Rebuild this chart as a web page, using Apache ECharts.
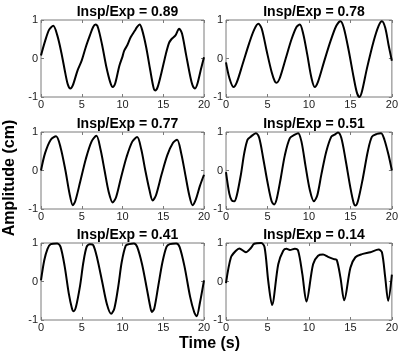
<!DOCTYPE html>
<html><head><meta charset="utf-8">
<script src="https://cdn.jsdelivr.net/npm/echarts@6/dist/echarts.min.js"></script>
<style>html,body{margin:0;padding:0;background:#fff}#c{width:401px;height:354px}</style>
</head><body><div id="c"></div>
<script>
const titles = ["Insp/Exp = 0.89","Insp/Exp = 0.78","Insp/Exp = 0.77","Insp/Exp = 0.51","Insp/Exp = 0.41","Insp/Exp = 0.14"];
const xTicks = [0,5,10,15,20];
const yTicks = [-1,0,1];
const xLabel = "Time (s)";
const yLabel = "Amplitude (cm)";

const t1 = [0,0.5,1.0,1.5,2.0,2.5,3.0,3.3,3.6,3.9,4.5,5.0,5.5,6.0,6.4,6.7,7.0,7.5,8.0,8.5,8.8,9.1,9.6,10.0,10.2,10.6,11.0,11.5,11.8,12.1,12.4,12.9,13.4,13.8,14.0,14.3,14.8,15.3,15.7,16.0,16.5,16.95,17.3,17.8,18.3,18.6,18.9,19.2,19.6,20];
const y1 = [0.08,0.45,0.75,0.85,0.6,0.15,-0.4,-0.68,-0.78,-0.7,-0.3,-0.05,0.3,0.6,0.82,0.88,0.8,0.35,-0.2,-0.62,-0.74,-0.65,-0.2,0.05,0.2,0.35,0.55,0.72,0.82,0.88,0.75,0.3,-0.3,-0.75,-0.83,-0.75,-0.35,0.1,0.4,0.5,0.6,0.77,0.65,0.1,-0.45,-0.7,-0.78,-0.65,-0.3,0.03];

const t2 = [0,0.4,0.9,1.3,2.0,2.8,3.4,3.9,4.3,4.9,5.5,5.9,6.1,6.5,7.2,7.9,8.5,8.9,9.3,9.8,10.3,10.7,11.1,11.8,12.6,13.3,13.8,14.2,14.8,15.4,15.8,16.1,16.4,17.0,17.8,18.4,18.8,19.2,19.6,20];
const y2 = [-0.1,-0.5,-0.74,-0.62,-0.15,0.4,0.75,0.9,0.78,0.2,-0.35,-0.6,-0.63,-0.5,0.0,0.5,0.82,0.88,0.65,0.1,-0.5,-0.74,-0.6,-0.1,0.45,0.85,0.97,0.8,0.2,-0.5,-0.9,-1.0,-0.85,-0.25,0.45,0.85,0.97,0.8,0.35,-0.06];

const t3 = [0,0.5,1.2,1.85,2.4,3.0,3.5,3.9,4.2,4.8,5.5,6.2,6.8,7.3,7.8,8.3,8.8,9.2,9.8,10.5,11.2,11.8,12.3,12.8,13.3,13.7,14.1,14.8,15.5,16.2,16.7,17.2,17.7,18.2,18.6,19.0,19.5,20];
const y3 = [0,0.45,0.8,0.89,0.6,0.0,-0.6,-0.9,-0.8,-0.3,0.3,0.75,0.9,0.55,0.0,-0.55,-0.83,-0.7,-0.2,0.35,0.75,0.87,0.55,0.0,-0.5,-0.78,-0.65,-0.1,0.4,0.72,0.8,0.45,-0.1,-0.65,-0.9,-0.75,-0.4,-0.11];

const t4 = [0,0.4,0.7,1.0,1.3,1.8,2.2,2.6,3.0,3.6,4.0,4.5,5.0,5.5,5.8,6.1,6.6,7.1,7.7,8.3,8.7,9.1,9.6,10.1,10.6,11.0,11.5,12.1,12.7,13.1,13.5,13.9,14.4,15.0,15.4,15.6,15.9,16.5,17.1,17.6,18.2,18.7,19.1,19.6,20];
const y4 = [-0.04,-0.6,-0.78,-0.8,-0.65,-0.1,0.45,0.8,0.88,0.97,0.85,0.3,-0.3,-0.8,-0.88,-0.75,-0.2,0.4,0.84,0.93,0.97,0.75,0.1,-0.5,-0.8,-0.65,-0.1,0.5,0.88,0.93,0.99,0.85,0.3,-0.45,-0.85,-0.91,-0.8,-0.2,0.5,0.88,0.95,0.97,0.8,0.4,0.0];

const t5 = [0,0.4,0.8,1.2,2.0,2.4,2.9,3.4,3.8,4.0,4.3,4.8,5.2,5.6,6.0,6.4,6.9,7.5,8.1,8.6,9.0,9.5,9.9,10.4,10.8,11.4,11.8,12.4,13.0,13.4,13.6,13.9,14.4,14.9,15.4,15.8,16.6,17.0,17.6,18.3,18.8,19.1,19.5,20];
const y5 = [0.03,0.55,0.85,0.97,0.99,0.9,0.4,-0.3,-0.7,-0.77,-0.65,-0.1,0.5,0.9,0.97,0.95,0.6,0.0,-0.6,-0.84,-0.7,-0.1,0.5,0.93,0.97,0.99,0.9,0.45,-0.2,-0.65,-0.79,-0.7,-0.1,0.5,0.9,0.97,0.99,0.9,0.4,-0.4,-0.8,-0.9,-0.55,0.03];

const t6 = [0,0.6,1.2,1.6,2.2,2.4,3.0,3.4,4.25,4.65,5.1,5.55,6.3,6.9,7.3,7.7,8.3,8.7,9.2,9.7,10.5,11.1,11.7,12.3,13.0,13.35,13.8,14.25,15.0,15.6,16.4,17.4,18.4,18.8,19.2,19.55,20];
const y6 = [-0.04,0.63,0.8,0.86,0.78,0.76,0.87,0.98,1.0,0.89,0.0,-0.61,0.45,0.8,0.85,0.82,0.85,0.8,0.2,-0.52,0.45,0.67,0.7,0.64,0.58,0.56,0.1,-0.49,0.36,0.63,0.71,0.76,0.83,0.76,0.1,-0.5,0.18];

const ts = [t1,t2,t3,t4,t5,t6];
const ys = [y1,y2,y3,y4,y5,y6];

const colLeft = [41, 226];
const colWidth = [163, 166];
const rowTop = [20, 132, 243];
const H = 77;
const font = "Liberation Sans, Arial, sans-serif";
const tickStyle = {show: true, inside: true, length: 3, lineStyle: {color: '#7a7a7a'}};

const grids = [], xAxes = [], yAxes = [], series = [], titleArr = [];
for (let i = 0; i < 6; i++) {
  const r = Math.floor(i / 2), c = i % 2;
  grids.push({left: colLeft[c], top: rowTop[r], width: colWidth[c], height: H,
    show: true, borderColor: '#7a7a7a', borderWidth: 1, backgroundColor: '#fff'});
  xAxes.push({type: 'value', gridIndex: i, position: 'bottom', min: xTicks[0], max: xTicks[xTicks.length-1], interval: 5,
    axisLine: {show: false, onZero: false}, splitLine: {show: false}, axisTick: tickStyle,
    axisLabel: {color: '#222', fontSize: 11, fontFamily: font, margin: 2, showMinLabel: true, showMaxLabel: true}});
  xAxes.push({type: 'value', gridIndex: i, position: 'top', min: 0, max: 20, interval: 5,
    axisLine: {show: false, onZero: false}, splitLine: {show: false}, axisTick: tickStyle,
    axisLabel: {show: false}});
  yAxes.push({type: 'value', gridIndex: i, position: 'left', min: yTicks[0], max: yTicks[yTicks.length-1], interval: 1,
    axisLine: {show: false, onZero: false}, splitLine: {show: false}, axisTick: tickStyle,
    axisLabel: {color: '#222', fontSize: 11, fontFamily: font, margin: 3}});
  yAxes.push({type: 'value', gridIndex: i, position: 'right', min: -1, max: 1, interval: 1,
    axisLine: {show: false, onZero: false}, splitLine: {show: false}, axisTick: tickStyle,
    axisLabel: {show: false}});
  series.push({type: 'line', xAxisIndex: 2*i, yAxisIndex: 2*i, showSymbol: false, smooth: 0.3,
    lineStyle: {color: '#000', width: 2}, data: ts[i].map((t, k) => [t, ys[i][k]]), z: 5});
  titleArr.push({text: titles[i], left: colLeft[c] + colWidth[c]/2, top: rowTop[r] - 20, textAlign: 'center',
    textStyle: {fontSize: 14, fontWeight: 'bold', fontFamily: font, color: '#000'}});
}

const chart = echarts.init(document.getElementById('c'), null, {renderer: 'canvas'});
chart.setOption({
  animation: false,
  backgroundColor: '#fff',
  title: titleArr,
  grid: grids, xAxis: xAxes, yAxis: yAxes, series: series,
  graphic: [
    {type: 'text', left: 215 - 36, top: 336, style: {text: xLabel, font: 'bold 16px ' + font, fill: '#000'}},
    {type: 'text', x: 2, y: 178, rotation: Math.PI/2, style: {text: yLabel, font: 'bold 16px ' + font, fill: '#000', align: 'center', verticalAlign: 'top'}}
  ]
});
</script></body></html>
